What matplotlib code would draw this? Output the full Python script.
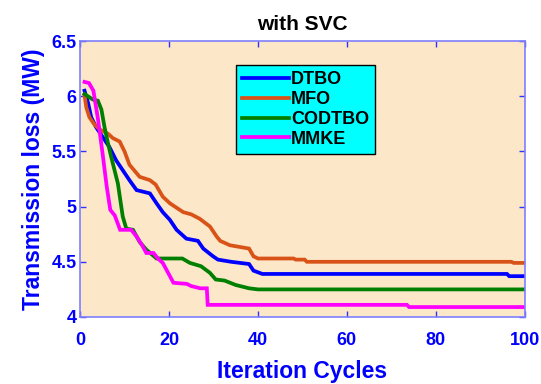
import matplotlib
matplotlib.use("Agg")
import matplotlib.pyplot as plt

plt.rcParams['font.family'] = ['Liberation Sans', 'DejaVu Sans']

# Data: curve vertices (iteration, transmission loss in MW)
dtbo_x = [1, 1.8, 2.5, 3.6, 5.1, 6.6, 8.1, 9.6, 11.1, 12.7, 15.7, 17.2, 18.6, 20.2, 21.7, 23.9, 26.5, 27.7, 29.9, 31, 34, 38, 39, 41, 96, 96.5, 100]
dtbo_y = [6.05, 5.94, 5.81, 5.72, 5.63, 5.54, 5.42, 5.33, 5.24, 5.15, 5.12, 5.03, 4.95, 4.88, 4.79, 4.71, 4.69, 4.62, 4.55, 4.52, 4.50, 4.48, 4.42, 4.39, 4.39, 4.37, 4.37]

mfo_x = [1, 1.4, 2.1, 3.3, 4.4, 6.3, 7.4, 8.9, 10, 11.1, 13.4, 15.7, 17, 18.6, 20.2, 23.2, 25, 26.9, 29.2, 30.7, 31.5, 33.7, 38, 39, 40, 48, 48.5, 50.5, 51, 97, 97.5, 100]
mfo_y = [6.01, 5.90, 5.81, 5.74, 5.70, 5.66, 5.62, 5.59, 5.50, 5.38, 5.27, 5.24, 5.20, 5.09, 5.03, 4.95, 4.93, 4.89, 4.82, 4.73, 4.69, 4.65, 4.62, 4.55, 4.53, 4.53, 4.52, 4.52, 4.50, 4.50, 4.49, 4.49]

codtbo_x = [1, 2.9, 4, 4.8, 5.5, 6.3, 7, 8.5, 9.6, 10.4, 11.9, 13.4, 14.9, 17.2, 23, 24.7, 27.2, 29.2, 30.5, 32.5, 35, 38, 40, 100]
codtbo_y = [6.02, 5.97, 5.96, 5.88, 5.72, 5.57, 5.45, 5.21, 4.91, 4.80, 4.79, 4.68, 4.61, 4.53, 4.53, 4.49, 4.46, 4.40, 4.34, 4.33, 4.29, 4.26, 4.25, 4.25]

mmke_x = [1, 2, 3, 4, 5, 6, 6.8, 7.8, 9, 11.5, 12.7, 14.1, 14.9, 16.5, 17.5, 18.6, 20.2, 21, 24, 25, 27, 28.5, 28.7, 73.5, 74, 100]
mmke_y = [6.13, 6.12, 6.05, 5.80, 5.50, 5.18, 4.97, 4.92, 4.79, 4.79, 4.73, 4.64, 4.58, 4.58, 4.53, 4.49, 4.37, 4.31, 4.30, 4.28, 4.26, 4.26, 4.11, 4.11, 4.09, 4.09]

series_names = ['DTBO', 'MFO', 'CODTBO', 'MMKE']
x_ticks = [0, 20, 40, 60, 80, 100]
y_ticks = [4, 4.5, 5, 5.5, 6, 6.5]
y_tick_labels = ['4', '4.5', '5', '5.5', '6', '6.5']

colors = ['#0000FF', '#D95319', '#007F00', '#FF00FF']

fig = plt.figure(figsize=(5.41, 3.84), dpi=100)
ax = fig.add_axes([0.148, 0.1745, 0.822, 0.7185])
ax.set_facecolor('#FCE8C8')

for xs, ys, name, c in zip([dtbo_x, mfo_x, codtbo_x, mmke_x],
                           [dtbo_y, mfo_y, codtbo_y, mmke_y],
                           series_names, colors):
    ax.plot(xs, ys, color=c, lw=2.7, label=name, solid_joinstyle='miter')

ax.set_xlim(0, 100)
ax.set_ylim(4, 6.5)
ax.set_xticks(x_ticks)
ax.set_xticklabels([str(v) for v in x_ticks])
ax.set_yticks(y_ticks)
ax.set_yticklabels(y_tick_labels)

for s in ax.spines.values():
    s.set_color('#7F7FFF')
    s.set_linewidth(1.2)
ax.tick_params(direction='in', top=True, right=True, length=4, width=1,
               color='#3333FF', labelcolor='#0000FF', labelsize=13)
ax.tick_params(axis='x', pad=11)
ax.tick_params(axis='y', pad=2.5)
for lab in ax.get_xticklabels() + ax.get_yticklabels():
    lab.set_fontweight('bold')

ax.set_xlabel('Iteration Cycles', color='#0000FF', fontsize=16.5, fontweight='bold', labelpad=8)
ax.set_ylabel('Transmission loss (MW)', color='#0000FF', fontsize=16.5, fontweight='bold', labelpad=5)
ax.set_title('with SVC', color='black', fontsize=15, fontweight='bold', pad=8)

leg = ax.legend(loc='upper left', bbox_to_anchor=(0.35, 0.913), frameon=True,
                fancybox=False, facecolor='#00FFFF', edgecolor='black',
                framealpha=1, fontsize=13, handlelength=2.6, handletextpad=0.1,
                labelspacing=0.15, borderpad=0.35, borderaxespad=0)
leg.get_frame().set_linewidth(1.0)
for t in leg.get_texts():
    t.set_fontweight('bold')

fig.savefig('out.png', dpi=100)
